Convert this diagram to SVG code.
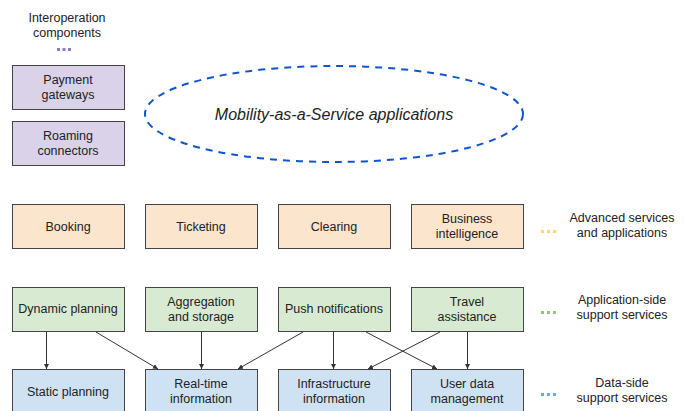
<svg xmlns="http://www.w3.org/2000/svg" width="684" height="411" viewBox="0 0 684 411">
<defs>
<style>
text{font-family:"Liberation Sans",Arial,sans-serif;font-size:12.5px;fill:#222;text-anchor:middle}
.box{stroke:#444;stroke-width:1}
.p{fill:#d9d2e9}.o{fill:#fce5cd}.g{fill:#d9ead3}.b{fill:#cfe2f3}
.c{stroke:#333;stroke-width:1;fill:none;marker-end:url(#ah)}
</style>
<marker id="ah" viewBox="0 0 8 8" refX="8" refY="4" markerWidth="5" markerHeight="5" orient="auto" markerUnits="userSpaceOnUse">
<path d="M0,0 L8,4 L0,8 z" fill="#333"/>
</marker>
</defs>
<rect width="684" height="411" fill="#fff"/>

<g id="legend-interop">
<text x="67" y="22">Interoperation</text>
<text x="67" y="37">components</text>
<path d="M57,49.5h14" stroke="#8e7cc3" stroke-width="3" stroke-dasharray="3,2.5"/>
</g>
<g id="payment"><rect class="box p" x="12.5" y="65.5" width="112" height="44"/><text x="68" y="84">Payment</text><text x="68" y="99">gateways</text></g>
<g id="roaming"><rect class="box p" x="12.5" y="121.5" width="112" height="44"/><text x="68" y="140">Roaming</text><text x="68" y="155">connectors</text></g>

<g id="maas">
<ellipse cx="334" cy="114" rx="189" ry="48" fill="none" stroke="#1155cc" stroke-width="2" stroke-dasharray="7,6"/>
<text x="334" y="120" style="font-size:16px;font-style:italic">Mobility-as-a-Service applications</text>
</g>

<g id="booking"><rect class="box o" x="12.5" y="204.5" width="112" height="44"/><text x="68" y="231">Booking</text></g>
<g id="ticketing"><rect class="box o" x="145.5" y="204.5" width="112" height="44"/><text x="201" y="231">Ticketing</text></g>
<g id="clearing"><rect class="box o" x="278.5" y="204.5" width="112" height="44"/><text x="334" y="231">Clearing</text></g>
<g id="bi"><rect class="box o" x="411.5" y="204.5" width="112" height="44"/><text x="467" y="223">Business</text><text x="467" y="238">intelligence</text></g>
<g id="legend-adv">
<path d="M541,231.5h15" stroke="#ffd966" stroke-width="3" stroke-dasharray="3,3"/>
<text x="622" y="222">Advanced services</text><text x="622" y="237">and applications</text>
</g>

<g id="dynamic"><rect class="box g" x="12.5" y="287.5" width="112" height="44"/><text x="68" y="313">Dynamic planning</text></g>
<g id="aggregation"><rect class="box g" x="145.5" y="287.5" width="112" height="44"/><text x="201" y="306">Aggregation</text><text x="201" y="321">and storage</text></g>
<g id="push"><rect class="box g" x="278.5" y="287.5" width="112" height="44"/><text x="334" y="313">Push notifications</text></g>
<g id="travel"><rect class="box g" x="411.5" y="287.5" width="112" height="44"/><text x="467" y="306">Travel</text><text x="467" y="321">assistance</text></g>
<g id="legend-app">
<path d="M541,312.5h15" stroke="#93c47d" stroke-width="3" stroke-dasharray="3,3"/>
<text x="622" y="304">Application-side</text><text x="622" y="319">support services</text>
</g>

<g id="static"><rect class="box b" x="12.5" y="369.5" width="112" height="50"/><text x="68" y="396">Static planning</text></g>
<g id="realtime"><rect class="box b" x="145.5" y="369.5" width="112" height="50"/><text x="201" y="388">Real-time</text><text x="201" y="403">information</text></g>
<g id="infra"><rect class="box b" x="278.5" y="369.5" width="112" height="50"/><text x="334" y="388">Infrastructure</text><text x="334" y="403">information</text></g>
<g id="userdata"><rect class="box b" x="411.5" y="369.5" width="112" height="50"/><text x="467" y="388">User data</text><text x="467" y="403">management</text></g>
<g id="legend-data">
<path d="M541,394.5h15" stroke="#6fa8dc" stroke-width="3" stroke-dasharray="3,3"/>
<text x="622" y="387">Data-side</text><text x="622" y="402">support services</text>
</g>

<g id="connectors">
<line class="c" x1="46.5" y1="332" x2="46.5" y2="369"/>
<line class="c" x1="96" y1="332" x2="158" y2="369"/>
<line class="c" x1="201.5" y1="332" x2="201.5" y2="369"/>
<line class="c" x1="303" y1="332" x2="238" y2="369"/>
<line class="c" x1="333.5" y1="332" x2="333.5" y2="369"/>
<line class="c" x1="366" y1="332" x2="437" y2="369"/>
<line class="c" x1="440" y1="332" x2="368" y2="369"/>
<line class="c" x1="467.5" y1="332" x2="467.5" y2="369"/>
</g>
</svg>
